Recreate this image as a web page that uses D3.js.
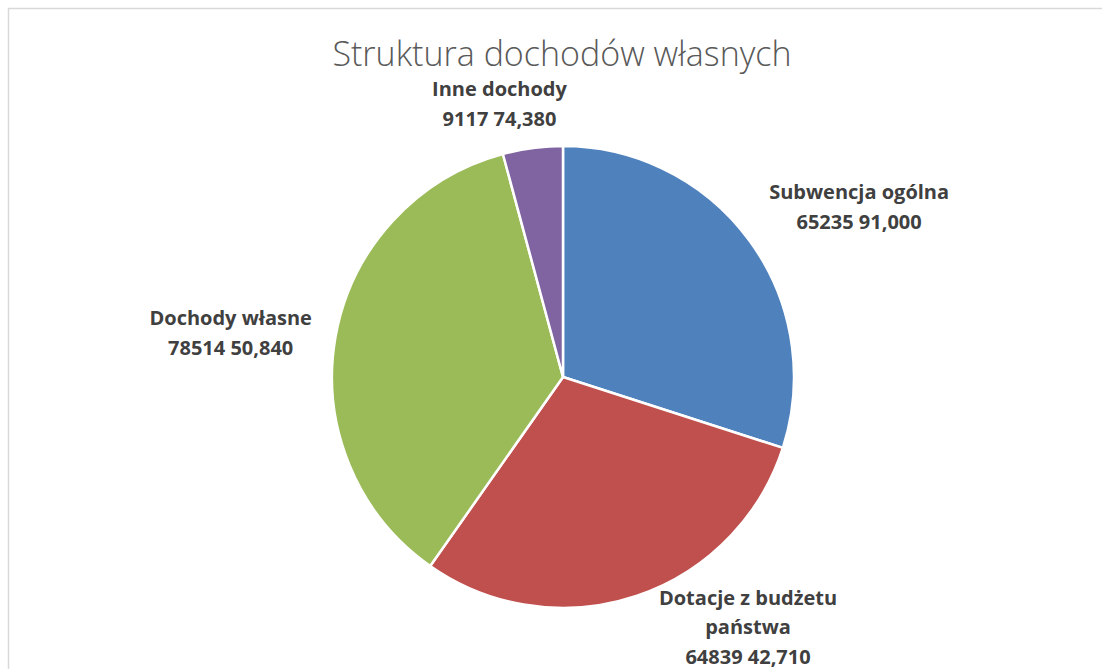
<!DOCTYPE html>
<html>
<head>
<meta charset="utf-8">
<script src="https://cdn.jsdelivr.net/npm/d3@7"></script>
<style>
  body { margin: 0; background: #fff; }
  svg { display: block; }
</style>
</head>
<body>
<div id="chart"></div>
<script>
// data
var categories = ["Subwencja ogólna", "Dotacje z budżetu państwa", "Dochody własne", "Inne dochody"];
var labelLines = [["Subwencja ogólna"], ["Dotacje z budżetu", "państwa"], ["Dochody własne"], ["Inne dochody"]];
var values = [6523591.000, 6483942.710, 7851450.840, 911774.380];
var valueLabels = ["65235 91,000", "64839 42,710", "78514 50,840", "9117 74,380"];
var colors = ["#4F81BD", "#C0504D", "#9BBB59", "#8064A2"];
var title = "Struktura dochodów własnych";

var width = 1102, height = 669;
var cx = 563, cy = 377, radius = 231;

var svg = d3.select("#chart").append("svg")
    .attr("width", width)
    .attr("height", height);

// chart area frame (runs off right/bottom edges)
svg.append("rect")
    .attr("x", 8.5).attr("y", 8.5)
    .attr("width", width + 20).attr("height", height + 20)
    .attr("fill", "#fff")
    .attr("stroke", "#d9d9d9")
    .attr("stroke-width", 1.5);

svg.append("text")
    .attr("x", cx - 1)
    .attr("y", 66)
    .attr("text-anchor", "middle")
    .style("font-family", "'Open Sans', sans-serif")
    .style("font-weight", 300)
    .style("font-size", "34px")
    .style("fill", "#595959")
    .text(title);

var data = categories.map(function(c, i) {
    return {name: c, lines: labelLines[i].concat([valueLabels[i]]), value: values[i], color: colors[i]};
});

var pie = d3.pie().sort(null).value(function(d) { return d.value; });
var arc = d3.arc().innerRadius(0).outerRadius(radius);

var g = svg.append("g").attr("transform", "translate(" + cx + "," + cy + ")");

var arcs = pie(data);

g.selectAll("path.slice")
    .data(arcs)
    .enter().append("path")
    .attr("class", "slice")
    .attr("d", arc)
    .attr("fill", function(d) { return d.data.color; })
    .attr("stroke", "#fff")
    .attr("stroke-width", 2.5)
    .attr("stroke-linejoin", "round");

// labels outside the slices, best-fit style
var lineH = 29.5, fontSize = 20, gap = 24;
var labels = svg.append("g")
    .style("font-family", "'Open Sans', sans-serif")
    .style("font-weight", 700)
    .style("font-size", fontSize + "px")
    .style("fill", "#404040");

arcs.forEach(function(d) {
    var a = (d.startAngle + d.endAngle) / 2;
    var s = Math.sin(a), c = Math.cos(a);
    var px = cx + (radius + gap) * s,
        py = cy - (radius + gap) * c + 10;
    var t = labels.append("text").attr("text-anchor", "middle");
    d.data.lines.forEach(function(l, i) {
        t.append("tspan").attr("x", 0).attr("dy", i === 0 ? 0 : lineH).text(l);
    });
    var w = 0;
    t.selectAll("tspan").each(function() { w = Math.max(w, this.getComputedTextLength()); });
    var h = d.data.lines.length * lineH;
    var ax = Math.max(0, Math.min(1, 0.5 - s * 1.7));
    var ay = Math.max(0, Math.min(1, 0.5 + c * 0.9));
    var left = px - ax * w;
    var top = py - ay * h;
    var limit = height + 3;
    if (top + h > limit) {
        // pushed up by the bottom edge: slide outward a bit
        left += (top + h - limit) * 0.33;
        top = limit - h;
    }
    t.attr("transform", "translate(" + (left + w / 2) + "," + (top + lineH * 0.72) + ")");
});
</script>
</body>
</html>
